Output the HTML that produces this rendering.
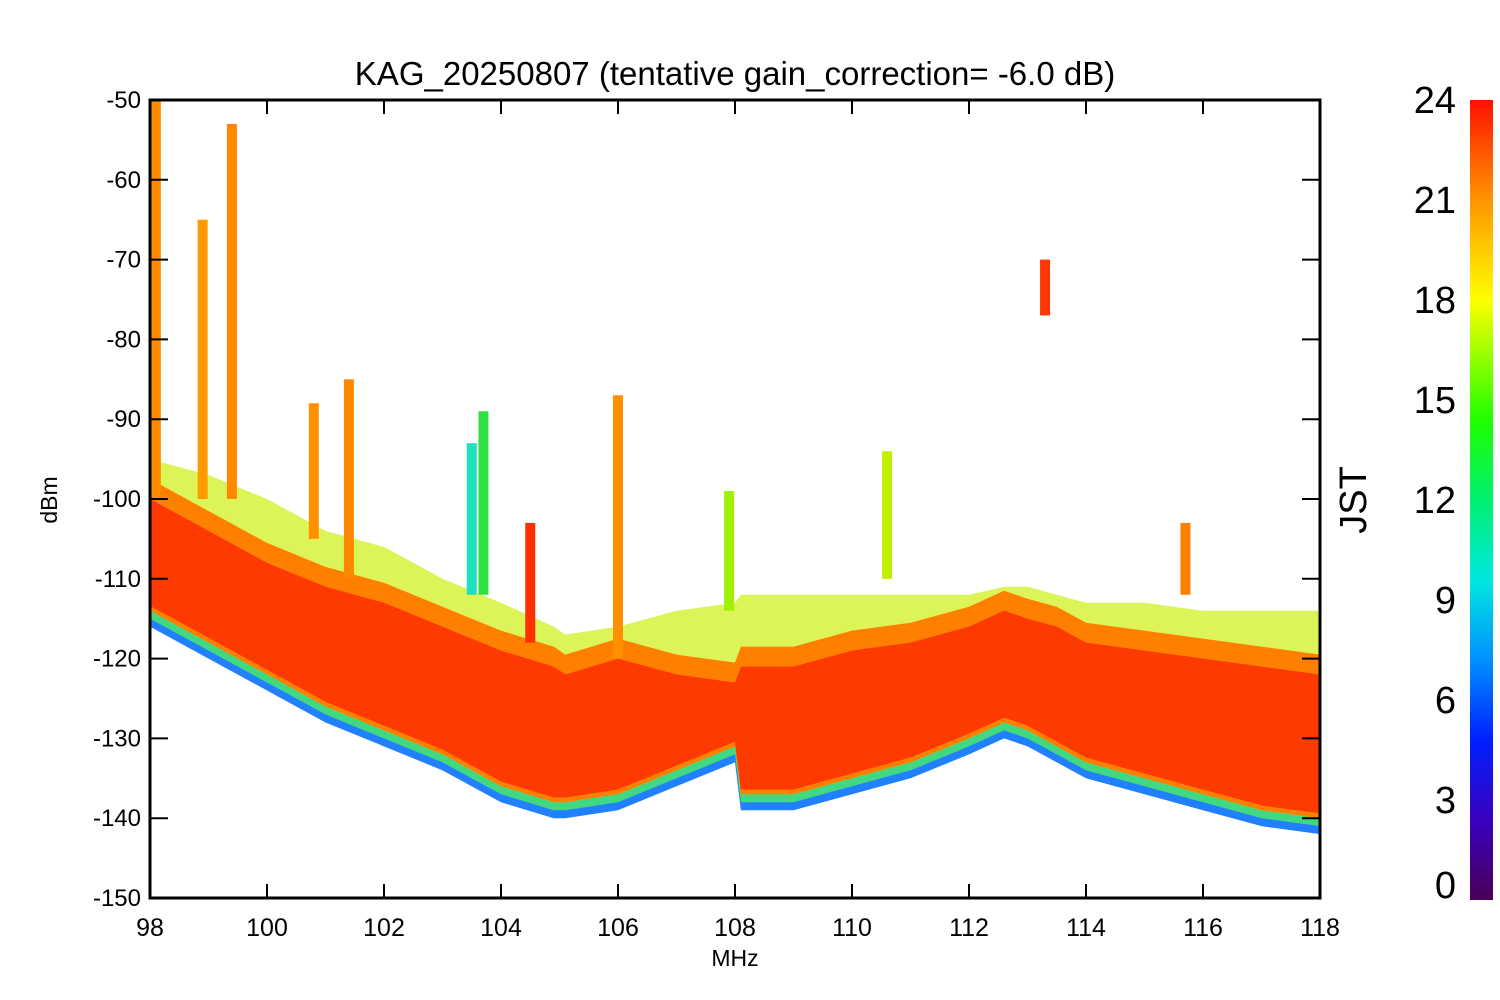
<!DOCTYPE html>
<html><head><meta charset="utf-8"><style>
html,body{margin:0;padding:0;background:#fff;}
svg{display:block;font-family:"Liberation Sans",sans-serif;}
</style></head><body>
<svg id="chart" width="1500" height="1000" viewBox="0 0 1500 1000">
<defs>
<linearGradient id="cbar" x1="0" y1="1" x2="0" y2="0">
<stop offset="0" stop-color="#4a0058"/>
<stop offset="0.1" stop-color="#3a00c0"/>
<stop offset="0.2" stop-color="#0020ff"/>
<stop offset="0.3" stop-color="#0090ff"/>
<stop offset="0.4" stop-color="#00e8e0"/>
<stop offset="0.5" stop-color="#00f070"/>
<stop offset="0.6" stop-color="#20ff00"/>
<stop offset="0.75" stop-color="#ffff00"/>
<stop offset="0.88" stop-color="#ff9000"/>
<stop offset="1" stop-color="#ff1000"/>
</linearGradient>
<clipPath id="plotclip"><rect x="150" y="100" width="1170" height="798"/></clipPath>
</defs>
<g id="marks" clip-path="url(#plotclip)"></g>
<rect x="150" y="100" width="1170" height="798" fill="none" stroke="#000" stroke-width="3"/>
<g id="axes"></g>
<text x="735" y="85" font-size="33" text-anchor="middle">KAG_20250807 (tentative gain_correction= -6.0 dB)</text>
<text x="735" y="966" font-size="23" text-anchor="middle">MHz</text>
<text transform="translate(57,500) rotate(-90)" font-size="23" text-anchor="middle">dBm</text>
<rect x="1470" y="100" width="23" height="800" fill="url(#cbar)"/>
<text transform="translate(1366,500) rotate(-90)" font-size="38" text-anchor="middle">JST</text>
</svg>
<script>
const xTicks=[98,100,102,104,106,108,110,112,114,116,118];
const yTicks=[-50,-60,-70,-80,-90,-100,-110,-120,-130,-140,-150];
const cTicks=[0,3,6,9,12,15,18,21,24];
// band envelope
const bandFreq=[98,99,100,101,102,103,104,104.9,105.1,106,107,108,108.1,109,110,111,112,112.6,113,113.5,114,115,116,117,118];
const bandTop=[-95,-97,-100,-104,-106,-110,-113,-116,-117,-116,-114,-113,-112,-112,-112,-112,-112,-111,-111,-112,-113,-113,-114,-114,-114];
const redTop=[-100,-104,-108,-111,-113,-116,-119,-121,-122,-120,-122,-123,-121,-121,-119,-118,-116,-114,-115,-116,-118,-119,-120,-121,-122];
const bandBottom=[-114,-118,-122,-126,-129,-132,-136,-138,-138,-137,-134,-131,-137,-137,-135,-133,-130,-128,-129,-131,-133,-135,-137,-139,-140];
// spikes
const spikeFreq=[98.1,98.9,99.4,100.8,101.4,103.5,103.7,104.5,106.0,107.9,110.6,113.3,115.7];
const spikeTop=[-50,-65,-53,-88,-85,-93,-89,-103,-87,-99,-94,-70,-103];
const spikeBottom=[-100,-100,-100,-105,-110,-112,-112,-118,-120,-114,-110,-77,-112];
const spikeColor=['#ff8c00','#ff9a00','#ff8800','#ff9000','#ff8800','#20e0c0','#30e040','#ff3000','#ff9000','#a0f000','#c0f000','#ff3800','#ff8000'];
const NS='http://www.w3.org/2000/svg';
const X=v=>150+(v-98)/20*1170;
const Y=v=>100+(-50-v)/100*798;
const CY=v=>900-v/24*800;
const marks=document.getElementById('marks');
const axes=document.getElementById('axes');
function mk(tag,attrs,parent){const e=document.createElementNS(NS,tag);for(const k in attrs)e.setAttribute(k,attrs[k]);parent.appendChild(e);return e;}
function poly(top,bot){let p=bandFreq.map((f,i)=>X(f)+','+Y(top[i]));for(let i=bandFreq.length-1;i>=0;i--)p.push(X(bandFreq[i])+','+Y(bot[i]));return p.join(' ');}
let e;
e=mk('polygon',{points:poly(redTop,bandBottom.map(v=>v-2)),fill:'#2080ff'},marks);


e=mk('polygon',{points:poly(redTop,bandBottom.map(v=>v-1)),fill:'#40d880'},marks);


e=mk('polygon',{points:poly(bandTop,bandBottom),fill:'#d0f020','fill-opacity':0.75},marks);


e=mk('polygon',{points:poly(redTop.map(v=>v+2.5),bandBottom),fill:'#ff8000'},marks);


e=mk('polygon',{points:poly(redTop,bandBottom.map(v=>v+0.6)),fill:'#ff3a00'},marks);


spikeFreq.forEach((f,i)=>{
 const s=mk('rect',{x:X(f)-5,y:Y(spikeTop[i]),width:10,height:Y(spikeBottom[i])-Y(spikeTop[i]),fill:spikeColor[i]},marks);
 
 
});
xTicks.forEach(t=>{
 mk('line',{x1:X(t),x2:X(t),y1:898,y2:884,stroke:'#000','stroke-width':2},axes);
 mk('line',{x1:X(t),x2:X(t),y1:100,y2:114,stroke:'#000','stroke-width':2},axes);
 const l=mk('text',{x:X(t),y:936,'font-size':25,'text-anchor':'middle'},axes);l.textContent=t;
 
 
});
yTicks.forEach(t=>{
 mk('line',{x1:150,x2:168,y1:Y(t),y2:Y(t),stroke:'#000','stroke-width':2},axes);
 mk('line',{x1:1302,x2:1320,y1:Y(t),y2:Y(t),stroke:'#000','stroke-width':2},axes);
 const l=mk('text',{x:141,y:Y(t)+8,'font-size':24,'text-anchor':'end'},axes);l.textContent=t;
 
 
});
cTicks.forEach(t=>{
 const l=mk('text',{x:1456,y:Math.min(CY(t)+13,898),'font-size':38,'text-anchor':'end'},axes);l.textContent=t;
 
 
});
</script>
</body></html>
